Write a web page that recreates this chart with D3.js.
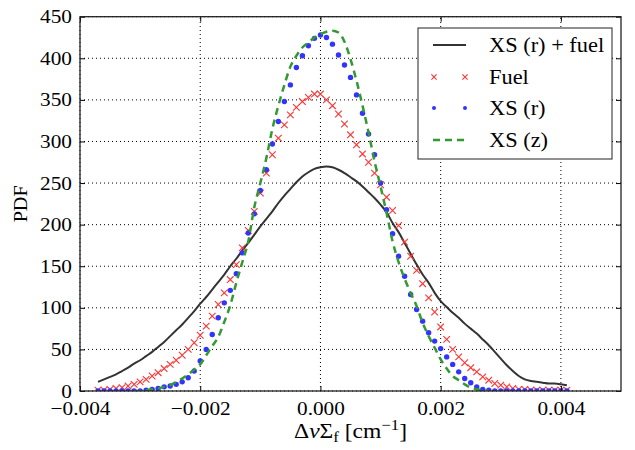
<!DOCTYPE html>
<html>
<head>
<meta charset="utf-8">
<script src="https://cdn.jsdelivr.net/npm/d3@7"></script>
<style>
  body { margin: 0; background: #fff; }
  svg text { font-family: "Liberation Serif", "Times New Roman", "DejaVu Serif", serif; fill: #000; }
</style>
</head>
<body>
<div id="chart"></div>
<script>
// x positions in units of 1e-4 cm^-1
const xGrid = [-37,-36,-35,-34,-33,-32,-31,-30,-29,-28,-27,-26,-25,-24,-23,-22,-21,-20,-19,-18,
  -17,-16,-15,-14,-13,-12,-11,-10,-9,-8,-7,-6,-5,-4,-3,-2,-1,0,1,2,3,4,5,6,7,8,9,10,11,12,13,14,15,16,
  17,18,19,20,21,22,23,24,25,26,27,28,29,30,31,32,33,34,35,36,37,38,39,40,41];

const xsFuel = [11,14,17,20,24,28,33,37,42,47,53,59,66,73,80,88,96,105,113,122,
  131,140,150,159,169,178,188,198,207,216,226,235,243,251,258,263,267,269,270,269,266,262,257,252,246,239,232,224,215,202,191,178,165,152,
  140,130,118,108,101,94,88,81,75,69,62,55,47,39,31,24,18,14,12,11,10,9,9,8,7];

const fuel = [1,1,2,3,4,6,8,11,14,18,22,27,32,37,43,50,58,67,78,90,
  104,118,134,152,172,193,216,238,262,284,304,320,332,341,348,353,357,357,350,343,333,321,308,296,285,275,262,248,233,217,199,179,162,145,
  129,112,95,77,62,50,41,34,28,23,17,13,9,7,5,3,2,2,1,1,1,1,1,1,1];

const xsR = [0,0,0,0,0,0,0,0,1,2,3,5,6,8,11,16,24,36,50,68,
  88,106,121,141,166,190,213,241,266,297,324,348,368,389,403,415,424,428,425,417,404,392,377,356,334,309,284,250,218,189,162,138,116,98,
  84,70,60,51,41,32,23,15,10,5,2,1,0,0,0,0,0,0,0,0,0,0,0,0,0];

const xsZ = [null,null,null,null,null,null,0,0,1,2,3,5,7,11,15,20,26,32,43,54,
  65,83,103,130,155,180,221,250,280,315,343,368,390,403,413,419,425,429,432,433,431,420,399,373,343,311,276,246,214,180,155,135,118,102,
  82,66,52,38,27,18,13,8,4,2,1,0,null,null,null,null,null,null,null,null,null,null,null,null,null];

const xTicks = [-0.004, -0.002, 0.000, 0.002, 0.004];
const yTicks = [0, 50, 100, 150, 200, 250, 300, 350, 400, 450];
const legendNames = ["XS (r) + fuel", "Fuel", "XS (r)", "XS (z)"];

const width = 635, height = 450;
const margin = {left: 80, right: 14, top: 16.7, bottom: 59};
const serif = "'Liberation Serif', 'Times New Roman', 'DejaVu Serif', serif";
const k = 1.12; // the reference text is a bit wider than plain Times

// widen a text horizontally, keeping its anchor where it was
function stretch(sel) {
  sel.each(function() {
    const t = d3.select(this);
    const x0 = +t.attr("x") || 0;
    t.attr("x", x0 / k).attr("transform", `scale(${k},1)`);
  });
}

const svg = d3.select("#chart").append("svg")
  .attr("width", width).attr("height", height);

const x = d3.scaleLinear().domain([-0.004, 0.005]).range([margin.left, width - margin.right]);
const y = d3.scaleLinear().domain([0, 450]).range([height - margin.bottom, margin.top]);

const black = "#333333", red = "#ff3333", blue = "#3333ff", green = "#339933";

// grid
svg.append("g").selectAll("line").data(xTicks).enter().append("line")
  .attr("x1", d => x(d)).attr("x2", d => x(d))
  .attr("y1", y(0)).attr("y2", y(450))
  .attr("stroke", "#000").attr("stroke-width", 1).attr("stroke-dasharray", "1,3");
svg.append("g").selectAll("line").data(yTicks).enter().append("line")
  .attr("x1", x(-0.004)).attr("x2", x(0.005))
  .attr("y1", d => y(d)).attr("y2", d => y(d))
  .attr("stroke", "#000").attr("stroke-width", 1).attr("stroke-dasharray", "1,3");

const pts = vals => xGrid.map((g, i) => ({x: g / 10000, y: vals[i]}));
svg.append("clipPath").attr("id", "clip").append("rect")
  .attr("x", x(-0.004)).attr("y", y(450)).attr("width", x(0.005) - x(-0.004)).attr("height", y(0) - y(450));
const plot = svg.append("g").attr("clip-path", "url(#clip)");

const line = d3.line().defined(d => d.y !== null).x(d => x(d.x)).y(d => y(d.y)).curve(d3.curveMonotoneX);

// XS (r) + fuel
plot.append("path").datum(pts(xsFuel)).attr("d", line)
  .attr("fill", "none").attr("stroke", black).attr("stroke-width", 2);

// Fuel crosses
const cross = (sel, s) => sel.append("path")
  .attr("d", `M${-s},${-s}L${s},${s}M${-s},${s}L${s},${-s}`)
  .attr("stroke", red).attr("stroke-width", 1.1).attr("fill", "none");
plot.append("g").selectAll("g").data(pts(fuel)).enter().append("g")
  .attr("transform", d => `translate(${x(d.x)},${y(d.y)})`)
  .each(function() { cross(d3.select(this), 3.3); });

// XS (r) dots
plot.append("g").selectAll("circle").data(pts(xsR)).enter().append("circle")
  .attr("cx", d => x(d.x)).attr("cy", d => y(d.y)).attr("r", 2.7).attr("fill", blue);

// XS (z) dashed
plot.append("path").datum(pts(xsZ)).attr("d", line)
  .attr("fill", "none").attr("stroke", green).attr("stroke-width", 2.5).attr("stroke-dasharray", "7,5");

// axes with inward ticks on all sides
const tick = 5;
svg.append("g").attr("transform", `translate(0,${y(0)})`)
  .call(d3.axisBottom(x).tickValues(xTicks).tickSize(-tick).tickPadding(10.5)
    .tickFormat(d => d3.format(".3f")(d).replace("-", "\u2212")))
  .call(g => g.select(".domain").remove());
svg.append("g").attr("transform", `translate(0,${y(450)})`)
  .call(d3.axisTop(x).tickValues(xTicks).tickSize(-tick).tickFormat(""))
  .call(g => g.select(".domain").remove());
svg.append("g").attr("transform", `translate(${x(-0.004)},0)`)
  .call(d3.axisLeft(y).tickValues(yTicks).tickSize(-tick).tickPadding(8))
  .call(g => g.select(".domain").remove());
svg.append("g").attr("transform", `translate(${x(0.005)},0)`)
  .call(d3.axisRight(y).tickValues(yTicks).tickSize(-tick).tickFormat(""))
  .call(g => g.select(".domain").remove());
svg.selectAll("g.tick text").attr("font-size", 19).attr("font-family", serif).call(stretch);
svg.selectAll("g.tick line").attr("stroke", "#000");

svg.append("rect").attr("x", x(-0.004)).attr("y", y(450))
  .attr("width", x(0.005) - x(-0.004)).attr("height", y(0) - y(450))
  .attr("fill", "none").attr("stroke", "#222").attr("stroke-width", 1.3);

// axis labels
svg.append("text").attr("transform", `translate(27,${(y(0) + y(450)) / 2}) rotate(-90) scale(${k},1)`)
  .attr("text-anchor", "middle").attr("font-size", 18).attr("font-family", serif).text("PDF");

const xl = svg.append("text").attr("x", (x(-0.004) + x(0.005)) / 2).attr("y", 438)
  .attr("text-anchor", "middle").attr("font-size", 21).attr("font-family", serif);
xl.append("tspan").text("\u0394");
xl.append("tspan").attr("font-style", "italic").text("\u03BD");
xl.append("tspan").text("\u03A3");
xl.append("tspan").attr("font-size", 15).attr("dy", 4).text("f");
xl.append("tspan").attr("dy", -4).text(" [cm");
xl.append("tspan").attr("font-size", 15).attr("dy", -8).text("\u22121");
xl.append("tspan").attr("dy", 8).text("]");
xl.call(stretch);

// legend
const lg = svg.append("g");
lg.append("rect").attr("x", 418).attr("y", 28).attr("width", 194).attr("height", 131)
  .attr("fill", "#fff").attr("stroke", "#222").attr("stroke-width", 1);
const rowY = [45, 77, 108, 140];
lg.append("line").attr("x1", 433).attr("x2", 466).attr("y1", rowY[0]).attr("y2", rowY[0])
  .attr("stroke", black).attr("stroke-width", 2);
[434, 465].forEach(px => {
  lg.append("g").attr("transform", `translate(${px},${rowY[1]})`)
    .each(function() { cross(d3.select(this), 2.6); });
  lg.append("circle").attr("cx", px).attr("cy", rowY[2]).attr("r", 2).attr("fill", blue);
});
lg.append("line").attr("x1", 433).attr("x2", 466).attr("y1", rowY[3]).attr("y2", rowY[3])
  .attr("stroke", green).attr("stroke-width", 2.5).attr("stroke-dasharray", "7,5");
lg.selectAll("text.lbl").data(legendNames).enter().append("text")
  .attr("x", 489).attr("y", (d, i) => rowY[i] + 7).attr("font-size", 20)
  .attr("font-family", serif).text(d => d).call(stretch);
</script>
</body>
</html>
